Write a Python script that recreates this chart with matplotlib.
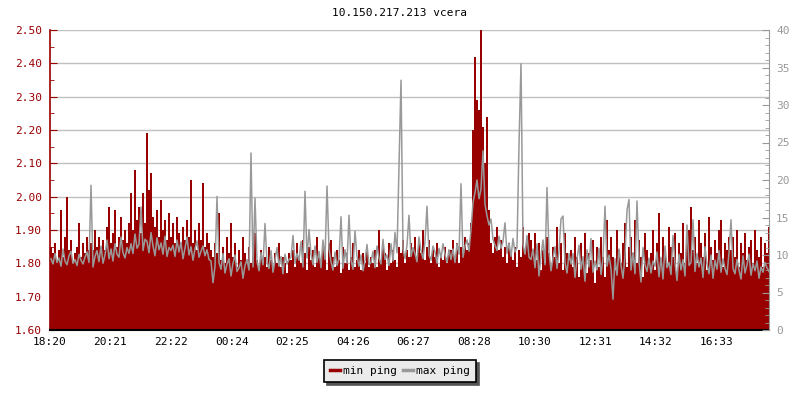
import numpy as np
import matplotlib
matplotlib.use("Agg")
import matplotlib.pyplot as plt
from matplotlib.ticker import MultipleLocator, FormatStrFormatter

title = "10.150.217.213 vcera"
series_names = ["min ping", "max ping"]
tick_labels = ["18:20", "20:21", "22:22", "00:24", "02:25", "04:26",
               "06:27", "08:28", "10:30", "12:31", "14:32", "16:33"]
step_minutes = 4

min_ping = [
    1.85, 1.83, 1.86, 1.81, 1.84, 1.96, 1.82, 1.88, 2.00, 1.84, 1.87, 1.80, 1.83, 1.85, 1.92, 1.82, 1.86, 1.83, 1.88, 1.84,
    1.86, 1.84, 1.90, 1.85, 1.88, 1.83, 1.87, 1.84, 1.91, 1.97, 1.86, 1.89, 1.96, 1.85, 1.88, 1.94, 1.87, 1.90, 1.86, 1.92,
    2.01, 1.90, 2.08, 1.93, 1.97, 1.89, 2.01, 1.92, 2.19, 2.02, 2.07, 1.94, 1.91, 1.96, 1.88, 1.99, 1.90, 1.93, 1.87, 1.95,
    1.88, 1.92, 1.86, 1.94, 1.89, 1.85, 1.91, 1.87, 1.93, 1.88, 2.05, 1.86, 1.90, 1.84, 1.92, 1.87, 2.04, 1.85, 1.89, 1.86,
    1.84, 1.82, 1.86, 1.83, 1.95, 1.81, 1.85, 1.80, 1.88, 1.83, 1.92, 1.82, 1.86, 1.79, 1.84, 1.81, 1.88, 1.83, 1.80, 1.85,
    1.80, 1.83, 1.89, 1.81, 1.78, 1.84, 1.80, 1.82, 1.79, 1.85, 1.81, 1.78, 1.83, 1.80, 1.86, 1.79, 1.82, 1.80, 1.77, 1.83,
    1.81, 1.84, 1.79, 1.86, 1.82, 1.80, 1.87, 1.83, 1.78, 1.85, 1.81, 1.84, 1.79, 1.88, 1.82, 1.80, 1.85, 1.83, 1.78, 1.86,
    1.87, 1.82, 1.79, 1.84, 1.81, 1.77, 1.85, 1.80, 1.83, 1.78, 1.82, 1.86, 1.79, 1.81, 1.84, 1.78, 1.83, 1.80, 1.85, 1.79,
    1.82, 1.80, 1.84, 1.79, 1.90, 1.81, 1.85, 1.83, 1.78, 1.86, 1.80, 1.84, 1.81, 1.79, 1.85, 1.83, 1.87, 1.80, 1.84, 1.82,
    1.86, 1.84, 1.88, 1.82, 1.86, 1.83, 1.90, 1.81, 1.85, 1.87, 1.80, 1.84, 1.82, 1.86, 1.79, 1.83, 1.81, 1.85, 1.80, 1.84,
    1.84, 1.87, 1.82, 1.86, 1.80, 1.85, 1.83, 1.88, 1.84, 1.86, 1.92, 2.20, 2.42, 2.29, 2.26, 2.50, 2.21, 2.10, 2.24, 1.96,
    1.86, 1.83, 1.88, 1.91, 1.84, 1.87, 1.82, 1.85, 1.80, 1.86, 1.83, 1.81, 1.85, 1.79, 1.84, 1.82, 1.91, 1.83, 1.86, 1.89,
    1.87, 1.84, 1.89, 1.81, 1.86, 1.78, 1.84, 1.80, 1.88, 1.83, 1.79, 1.85, 1.82, 1.91, 1.80, 1.86, 1.78, 1.89, 1.83, 1.81,
    1.84, 1.79, 1.88, 1.82, 1.76, 1.86, 1.80, 1.89, 1.77, 1.83, 1.81, 1.87, 1.74, 1.85, 1.79, 1.88, 1.82, 1.76, 1.93, 1.84,
    1.88, 1.82, 1.78, 1.90, 1.84, 1.80, 1.86, 1.92, 1.79, 1.85, 1.88, 1.83, 1.93, 1.80, 1.87, 1.82, 1.76, 1.89, 1.84, 1.81,
    1.83, 1.90, 1.78, 1.86, 1.95, 1.81, 1.88, 1.84, 1.79, 1.91, 1.85, 1.82, 1.89, 1.77, 1.86, 1.83, 1.92, 1.80, 1.87, 1.90,
    1.97, 1.84, 1.88, 1.80, 1.93, 1.86, 1.82, 1.89, 1.78, 1.94, 1.85, 1.81, 1.87, 1.83, 1.90, 1.93, 1.79, 1.86, 1.84, 1.88,
    1.84, 1.88, 1.82, 1.90, 1.79, 1.86, 1.83, 1.89, 1.81, 1.85, 1.87, 1.80, 1.90, 1.84, 1.82, 1.88, 1.79, 1.86, 1.83, 1.91,
]

max_ping = [
    9.5, 8.8, 10.2, 9.0, 9.6, 8.5, 10.8, 9.2, 8.7, 9.9, 10.5, 8.9, 9.4, 8.6, 10.1, 9.3, 8.8, 9.7, 10.4, 9.0,
    19.3, 8.4, 9.8, 10.6, 9.1, 11.2, 8.9, 10.0, 12.0, 9.5, 10.8, 9.2, 11.5, 10.1, 9.7, 12.4, 10.3, 9.6, 11.0, 10.2,
    11.5, 10.2, 12.8, 10.9, 11.4, 16.4, 10.6, 12.1, 11.8, 10.3, 13.0, 11.2, 9.9, 12.3, 10.7, 11.6, 10.1, 12.5, 9.8, 11.0,
    10.6, 11.3, 9.8, 12.0, 10.4, 11.7, 9.5, 10.9, 12.4, 10.0, 11.1, 9.3, 10.8, 11.9, 9.7, 10.5, 11.2, 9.9, 10.7, 9.4,
    9.2, 6.3, 8.5, 17.8, 9.0, 8.1, 10.2, 7.6, 8.8, 9.5, 7.2, 8.9, 10.0, 7.8, 8.3, 9.1, 6.9, 8.6, 9.4, 8.0,
    23.6, 8.4, 17.6, 9.1, 7.9, 10.3, 8.7, 14.2, 9.0, 8.2, 10.6, 7.7, 9.3, 11.0, 8.5, 9.8, 7.5, 10.1, 8.8, 9.4,
    9.7, 12.6, 8.9, 10.2, 9.3, 11.8, 8.4, 18.5, 9.6, 13.4, 10.1, 8.7, 11.2, 9.0, 10.5, 8.3, 12.0, 9.4, 19.2, 10.8,
    9.1, 8.0, 10.4, 8.6, 9.5, 15.1, 8.2, 10.7, 8.9, 15.3, 9.3, 8.1, 13.2, 9.8, 8.5, 10.0, 7.9, 9.2, 11.4, 8.7,
    9.0, 10.5, 8.3, 11.2, 9.6, 8.8, 12.1, 9.4, 10.0, 8.6, 11.5, 9.2, 13.0, 10.3, 21.5, 33.3, 10.8, 9.5, 11.3, 15.3,
    9.8, 11.0, 10.2, 9.1, 12.4, 10.6, 9.5, 11.8, 16.5, 10.0, 9.3, 11.2, 10.4, 8.9, 10.9, 9.6, 11.5, 10.1, 9.0, 10.7,
    9.4, 10.8, 9.0, 11.5, 10.1, 19.5, 9.7, 11.2, 12.0, 10.5, 13.4, 17.0, 18.3, 20.0, 17.5, 18.8, 23.9, 16.8, 15.2, 14.0,
    14.8, 12.1, 11.3, 10.6, 12.5, 10.9, 11.8, 14.3, 10.2, 11.6, 9.8, 12.2, 10.4, 11.0, 24.7, 35.5, 11.4, 10.1, 12.6, 9.7,
    9.4, 10.8, 8.3, 11.5, 7.2, 9.9, 12.0, 8.7, 19.0, 10.3, 7.9, 9.6, 11.1, 8.2, 10.5, 14.8, 15.2, 9.0, 7.6, 10.2,
    8.8, 10.2, 7.0, 9.5, 11.3, 8.1, 9.8, 6.5, 10.7, 8.4, 12.2, 7.7, 9.2, 8.0, 10.9, 7.4, 9.6, 16.5, 8.5, 10.0,
    8.2, 4.1, 9.5, 7.3, 10.8, 8.6, 6.9, 9.9, 16.0, 17.4, 8.0, 10.3, 7.5, 17.2, 9.1, 6.4, 11.0, 8.7, 7.8, 9.6,
    7.6, 9.2, 8.5, 10.4, 7.1, 9.7, 6.8, 11.2, 8.3, 9.0, 7.4, 12.6, 8.9, 6.6, 10.1, 8.0, 9.4, 7.2, 14.0, 8.6,
    9.0, 14.7, 7.8, 10.2, 8.4, 9.6, 7.0, 11.1, 8.8, 7.5, 10.0, 6.9, 9.3, 8.1, 10.6, 7.7, 9.5, 8.2, 7.4, 10.3,
    14.7, 8.2, 7.5, 9.4, 8.0, 6.8, 9.9, 7.6, 8.7, 10.1, 7.3, 8.9, 7.9, 9.2, 6.9, 8.4, 7.7, 9.0, 8.3, 7.8,
]

RED = "#990000"
GREY = "#999999"
MONO = "DejaVu Sans Mono"

# tick positions in minutes from the first label
def to_min(s):
    h, m = s.split(":")
    return int(h) * 60 + int(m)

t0 = to_min(tick_labels[0])
tick_pos = [(to_min(s) - t0) % 1440 for s in tick_labels]

n = len(min_ping)
t = np.arange(n) * step_minutes

fig = plt.figure(figsize=(8, 4), dpi=100)
ax = fig.add_axes([50 / 800, 1 - 330 / 400, 719 / 800, 300 / 400])
ax2 = ax.twinx()

ax.bar(t, np.array(min_ping) - 1.6, bottom=1.6, width=step_minutes, align="edge",
       color=RED, linewidth=0, zorder=2, label=series_names[0])
ax.set_ylim(1.6, 2.5)
ax.set_xlim(0, 1438)
ax.set_axisbelow(True)
ax.yaxis.set_major_locator(MultipleLocator(0.1))
ax.yaxis.set_minor_locator(MultipleLocator(0.05))
ax.yaxis.set_major_formatter(FormatStrFormatter("%.2f"))
ax.grid(axis="y", which="major", color="#c0c0c0", linewidth=1)
ax.set_xticks(tick_pos)
ax.set_xticklabels(tick_labels, fontfamily=MONO, fontsize=8)
for lbl in ax.get_yticklabels():
    lbl.set_fontfamily(MONO)
ax.tick_params(axis="y", which="major", direction="in", length=5, colors=RED, labelsize=8, pad=6)
ax.tick_params(axis="y", which="minor", direction="in", length=3, colors=RED)
ax.tick_params(axis="x", direction="in", length=5, width=1, colors="black", labelsize=8, pad=5)
ax.spines["left"].set_color(RED)
ax.spines["left"].set_linewidth(1.2)
ax.spines["bottom"].set_color("black")
ax.spines["bottom"].set_linewidth(1.5)
ax.spines["top"].set_visible(False)
ax.spines["right"].set_visible(False)

ax2.plot(t + step_minutes / 2, max_ping, color=GREY, linewidth=1.1,
         zorder=3, label=series_names[1])
ax2.set_ylim(0, 40)
ax2.yaxis.set_major_locator(MultipleLocator(5))
ax2.yaxis.set_minor_locator(MultipleLocator(1))
for lbl in ax2.get_yticklabels():
    lbl.set_fontfamily(MONO)
ax2.tick_params(axis="y", which="major", direction="in", length=5, colors=GREY, labelsize=8, pad=5)
ax2.tick_params(axis="y", which="minor", direction="in", length=3, colors=GREY)
ax2.spines["right"].set_color(GREY)
for s in ["left", "top", "bottom"]:
    ax2.spines[s].set_visible(False)

fig.text(0.5, 1 - 13 / 400, title, ha="center", va="center", fontfamily=MONO, fontsize=8)

h1 = plt.Line2D([], [], color=RED, linewidth=2.5)
h2 = plt.Line2D([], [], color=GREY, linewidth=2.5)
leg = fig.legend([h1, h2], series_names, loc="center", bbox_to_anchor=(0.5, 1 - 371 / 400),
                 ncol=2, frameon=True, fancybox=False, shadow={"color": "#555555", "alpha": 1.0},
                 facecolor="#ebebeb", edgecolor="black", framealpha=1,
                 prop={"family": MONO, "size": 8}, handlelength=0.9, handletextpad=0.3,
                 columnspacing=0.5, borderpad=0.55)
leg.get_frame().set_linewidth(1.2)

fig.savefig("out.png", dpi=100, facecolor="white")
